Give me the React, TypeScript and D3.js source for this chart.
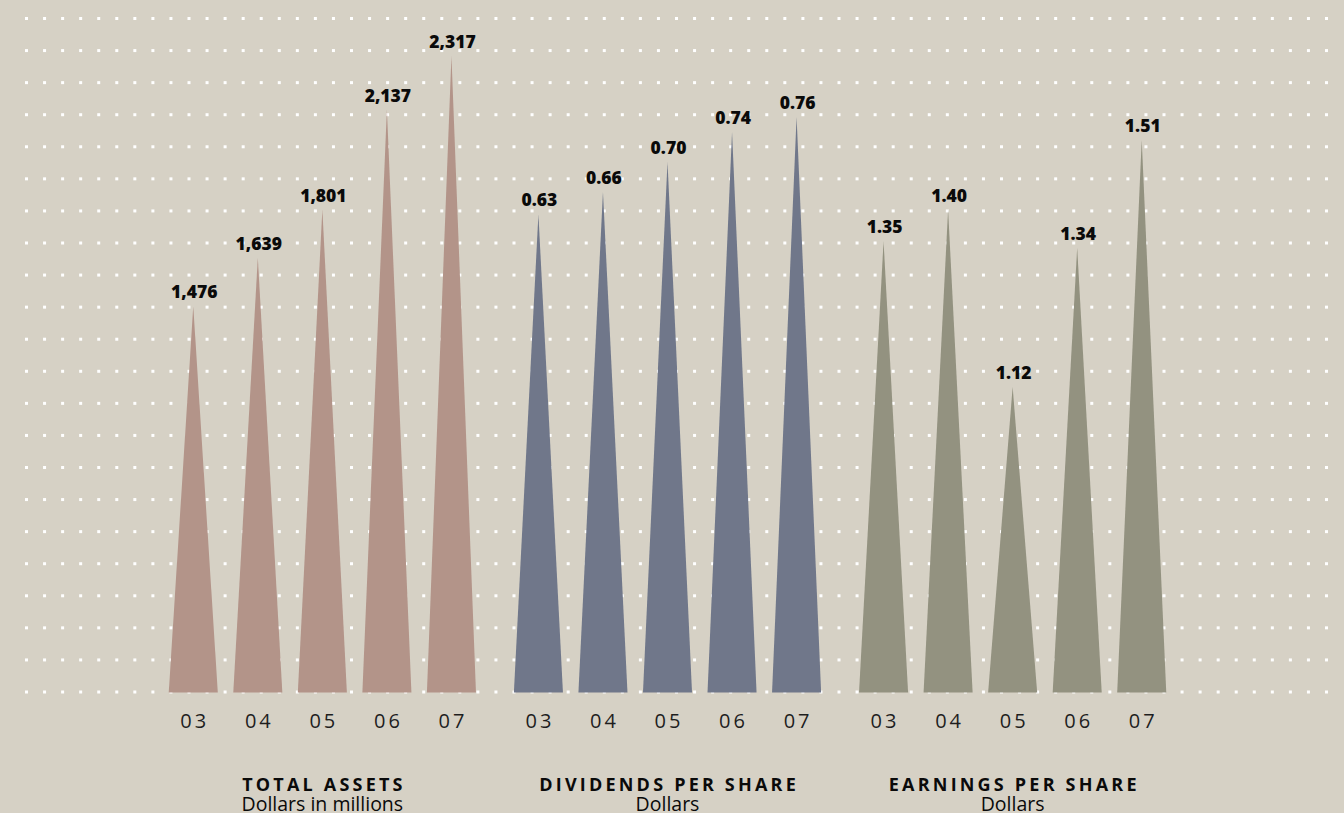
import React from 'react';
import * as d3 from 'd3';

const years = ['03', '04', '05', '06', '07'];
const groupTitles = ['TOTAL ASSETS', 'DIVIDENDS PER SHARE', 'EARNINGS PER SHARE'];
const groupSubtitles = ['Dollars in millions', 'Dollars', 'Dollars'];
const totalAssets = [1476, 1639, 1801, 2137, 2317];
const dividends = [0.63, 0.66, 0.7, 0.74, 0.76];
const earnings = [1.35, 1.4, 1.12, 1.34, 1.51];

const W = 1344;
const H = 813;
const BASE = 692.5;

const series = [
  { key: 'ta', values: totalAssets, color: '#b39489', fmt: d3.format(','), domain: [179, 2317], top: 56 },
  { key: 'dps', values: dividends, color: '#70778a', fmt: d3.format('.2f'), domain: [-0.008, 0.76], top: 117 },
  { key: 'eps', values: earnings, color: '#939280', fmt: d3.format('.2f'), domain: [0.6376, 1.51], top: 140 },
];

export default function App() {
  const outer = d3.scaleBand<string>().domain(groupTitles).range([161, 1174]).paddingInner(0.065).paddingOuter(0);
  const inner = d3.scaleBand<string>().domain(years).range([0, outer.bandwidth()]).padding(0);
  const triW = inner.bandwidth() * 0.76;

  const dotX = d3.range(73).map((i) => 26.5 + i * (1300 / 72));
  const dotY = d3.range(22).map((i) => 18.5 + i * ((692 - 18.5) / 21));

  return (
    <svg width={W} height={H} style={{ position: 'absolute', left: 0, top: 0 }} xmlns="http://www.w3.org/2000/svg">
      <rect x={0} y={0} width={W} height={H} fill="#d6d1c5" />
      <g>
        {dotY.map((y, ri) =>
          dotX.map((x, ci) => (
            <rect key={`d${ri}-${ci}`} x={x - 1.5} y={y - 1.5} width={3} height={3} fill="#ffffff" />
          ))
        )}
      </g>
      {series.map((s, gi) => {
        const gx = outer(groupTitles[gi]) as number;
        const y = d3.scaleLinear().domain(s.domain).range([BASE, s.top]);
        return (
          <g key={s.key}>
            {s.values.map((v, i) => {
              const cx = gx + (inner(years[i]) as number) + inner.bandwidth() / 2;
              const ay = y(v);
              const path = d3.path();
              path.moveTo(cx - triW / 2, BASE);
              path.lineTo(cx + triW / 2, BASE);
              path.lineTo(cx, ay);
              path.closePath();
              return (
                <g key={i}>
                  <path d={path.toString()} fill={s.color} />
                  <text
                    x={cx + 1}
                    y={ay - 8}
                    textAnchor="middle"
                    fontFamily="'Open Sans', sans-serif"
                    fontWeight={800}
                    fontSize={17.5}
                    fill="#0a0a0a"
                  >
                    {s.fmt(v)}
                  </text>
                  <text
                    x={cx + 1.5}
                    y={727.5}
                    textAnchor="middle"
                    fontFamily="'Open Sans', sans-serif"
                    fontWeight={400}
                    fontSize={20}
                    letterSpacing={3}
                    fill="#1e1e1e"
                  >
                    {years[i]}
                  </text>
                </g>
              );
            })}
            <text
              x={gx + outer.bandwidth() / 2 + 1.6}
              y={790.5}
              textAnchor="middle"
              fontFamily="'Open Sans', sans-serif"
              fontWeight={700}
              fontSize={18}
              letterSpacing={3.2}
              fill="#0a0a0a"
            >
              {groupTitles[gi]}
            </text>
            <text
              x={gx + outer.bandwidth() / 2}
              y={810.5}
              textAnchor="middle"
              fontFamily="'Open Sans', sans-serif"
              fontWeight={400}
              fontSize={19.5}
              fill="#0a0a0a"
            >
              {groupSubtitles[gi]}
            </text>
          </g>
        );
      })}
    </svg>
  );
}
